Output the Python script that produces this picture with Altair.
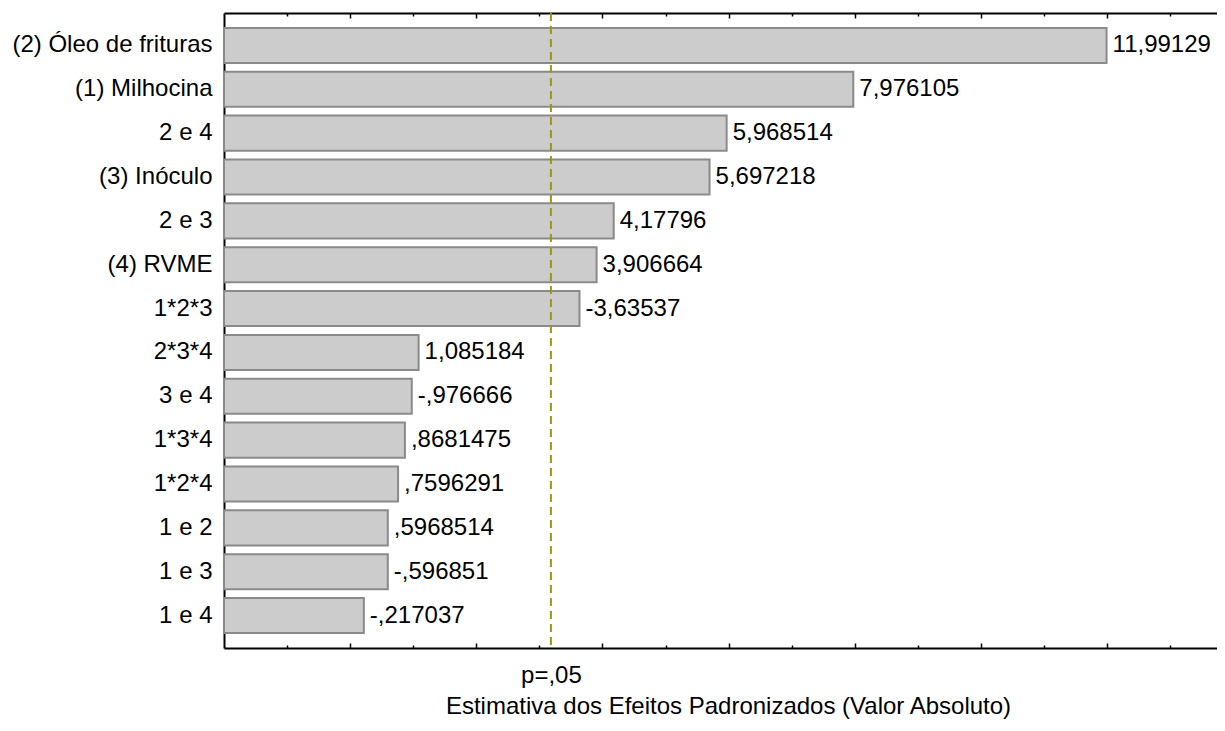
import altair as alt
import pandas as pd

# ---- data ----
terms = ["(2) Óleo de frituras", "(1) Milhocina", "2 e 4", "(3) Inóculo", "2 e 3",
         "(4) RVME", "1*2*3", "2*3*4", "3 e 4", "1*3*4", "1*2*4", "1 e 2", "1 e 3", "1 e 4"]
effects = [11.99129, 7.976105, 5.968514, 5.697218, 4.17796, 3.906664, -3.63537,
           1.085184, -0.976666, 0.8681475, 0.7596291, 0.5968514, -0.596851, -0.217037]
effect_labels = ["11,99129", "7,976105", "5,968514", "5,697218", "4,17796", "3,906664",
                 "-3,63537", "1,085184", "-,976666", ",8681475", ",7596291", ",5968514",
                 "-,596851", "-,217037"]
p_crit = [3.182446]
p_label = "p=,05"
x_title = "Estimativa dos Efeitos Padronizados (Valor Absoluto)"
x_domain = [-2, 13.742]
major_ticks = [0, 2, 4, 6, 8, 10, 12]
minor_ticks = [-1, 1, 3, 5, 7, 9, 11, 13]

df = pd.DataFrame({
    "term": terms,
    "abs_effect": [abs(v) for v in effects],
    "label": effect_labels,
    "base": [x_domain[0]] * len(terms),
})
pdf = pd.DataFrame({"p": p_crit})

W, H = 993, 635
FONT = "Liberation Sans"
FS = 24

x_scale = alt.Scale(domain=x_domain, nice=False, zero=False)
y_scale = alt.Scale(domain=terms, paddingInner=0.2, paddingOuter=0.34)


def tick_axis(orient, values, size, domain):
    return alt.Axis(orient=orient, offset=-H, values=values, labels=False, ticks=True,
                    tickSize=size, tickWidth=1.5, tickColor="black", domain=domain,
                    domainColor="black", domainWidth=2, grid=False, title=None)


bars = alt.Chart(df).mark_bar(fill="#cccccc", stroke="#8a8a8a", strokeWidth=2).encode(
    x=alt.X("abs_effect:Q", scale=x_scale, axis=tick_axis("top", major_ticks, 5, True)),
    x2="base:Q",
    y=alt.Y("term:N", scale=y_scale, sort=None,
            axis=alt.Axis(orient="left", ticks=False, tickSize=0, labelPadding=12,
                          labelFontSize=FS, labelFont=FONT, labelColor="black",
                          domain=True, domainColor="black", domainWidth=2, grid=False,
                          title=None, labelLimit=400)),
)

minor_bottom = alt.Chart(df).mark_point(opacity=0).encode(
    x=alt.X("abs_effect:Q", scale=x_scale, axis=tick_axis("top", minor_ticks, 3, False)),
)

texts = alt.Chart(df).mark_text(align="left", baseline="middle", dx=6, fontSize=FS,
                                font=FONT, color="black").encode(
    x=alt.X("abs_effect:Q", scale=x_scale, axis=tick_axis("bottom", major_ticks, 5, True)),
    y=alt.Y("term:N", scale=y_scale, sort=None,
            axis=alt.Axis(orient="right", offset=-W, labels=False, ticks=True, tickSize=4,
                          tickWidth=1.5, tickColor="black", domain=False, grid=False,
                          title=None)),
    text="label:N",
)

minor_top = alt.Chart(df).mark_point(opacity=0).encode(
    x=alt.X("abs_effect:Q", scale=x_scale, axis=tick_axis("bottom", minor_ticks, 3, False)),
)

rule = alt.Chart(pdf).mark_rule(color="#9c9618", strokeWidth=2, strokeDash=[8, 5]).encode(
    x=alt.X("p:Q", scale=x_scale,
            axis=alt.Axis(orient="bottom", values=p_crit, labelExpr=f"'{p_label}'",
                          ticks=False, tickSize=0, labelPadding=15, labelFlush=False,
                          labelFontSize=FS, labelFont=FONT, labelColor="black",
                          domain=False, grid=False, title=x_title, titleFontSize=FS,
                          titleFont=FONT, titleFontWeight="normal", titleColor="black",
                          titleX=504, titleY=46, titleBaseline="top", titleAlign="center")),
)

chart = alt.layer(bars, minor_bottom, rule, texts, minor_top).resolve_axis(
    x="independent", y="independent"
).properties(
    width=W, height=H,
    padding={"left": 216, "top": 5, "right": 0, "bottom": 75},
    autosize=alt.AutoSizeParams(type="none"),
    background="white",
).configure_view(stroke=None).configure_axis(grid=False)

chart.save("out.html", embed_options={"renderer": "svg", "actions": False})
